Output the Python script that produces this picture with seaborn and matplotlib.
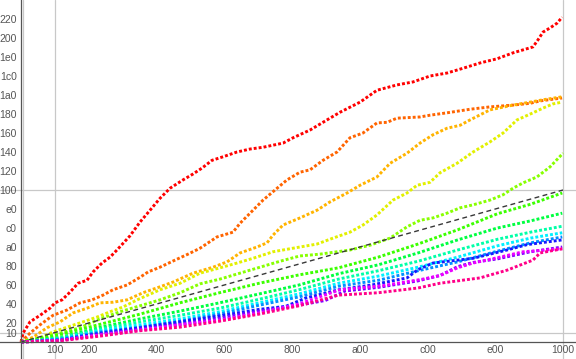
import matplotlib
matplotlib.use("Agg")
import matplotlib.pyplot as plt
import seaborn as sns

sns.set_style("white")
plt.rcParams['font.family'] = ['Liberation Sans', 'DejaVu Sans']

# values (axis ticks are hexadecimal)
red_x = [0, 15, 68, 144, 219, 257, 310, 370, 431, 499, 544, 612, 673, 725, 824, 899, 975, 1050,
         1126, 1224, 1300, 1368, 1443, 1527, 1632, 1730, 1829, 1980, 2056, 2184, 2312, 2411, 2562,
         2690, 2841, 2962, 3091, 3219, 3340, 3469, 3597, 3718, 3794, 3869, 3907, 3945, 3998, 4051, 4089]
red_y = [0, 15, 34, 45, 57, 66, 71, 84, 99, 104, 118, 133, 143, 155, 179, 202, 222, 242,
         259, 273, 283, 293, 306, 312, 320, 325, 328, 335, 344, 357, 374, 387, 404,
         424, 433, 438, 448, 453, 461, 470, 477, 487, 492, 497, 509, 522, 529, 537, 547]

orange_x = [0, 68, 144, 242, 348, 446, 537, 620, 695, 801, 899, 960, 1050, 1164, 1262, 1353, 1481,
            1602, 1655, 1731, 1829, 1935, 2010, 2108, 2184, 2282, 2388, 2486, 2584, 2690, 2766, 2841,
            3015, 3091, 3219, 3393, 3544, 3718, 3847, 3922, 4089]
orange_y = [0, 15, 29, 45, 54, 66, 71, 79, 88, 96, 109, 118, 126, 138, 148, 158, 177,
            185, 200, 217, 239, 259, 273, 286, 290, 306, 320, 344, 352, 369, 370, 377,
            379, 382, 386, 392, 396, 399, 402, 406, 411]

gold_x = [0, 91, 196, 295, 393, 499, 597, 695, 801, 922, 1050, 1149, 1300, 1451, 1557, 1655, 1783,
          1859, 1904, 1980, 2108, 2237, 2335, 2464, 2562, 2690, 2789, 2917, 3015, 3113, 3219, 3318,
          3393, 3544, 3718, 3847, 3945, 4089]
gold_y = [0, 8, 24, 34, 49, 57, 66, 67, 71, 83, 93, 101, 116, 126, 135, 150, 160,
          167, 180, 197, 209, 222, 236, 251, 264, 278, 301, 318, 335, 349, 360, 365,
          374, 391, 399, 404, 408, 413]

yellow_x = [0, 144, 242, 348, 469, 574, 673, 771, 877, 1050, 1202, 1353, 1504, 1632, 1753, 1904,
            2056, 2237, 2358, 2486, 2584, 2690, 2811, 2917, 2993, 3091, 3166, 3295, 3416, 3544,
            3643, 3748, 3869, 3945, 4020, 4089]
yellow_y = [0, 7, 17, 25, 34, 42, 51, 59, 71, 88, 99, 116, 125, 133, 141, 152,
            158, 165, 175, 185, 197, 214, 239, 251, 264, 269, 285, 301, 320, 337,
            352, 374, 386, 394, 401, 404]

lime_x = [0, 144, 295, 446, 597, 748, 899, 1050, 1202, 1353, 1504, 1655, 1806, 1957, 2108, 2260,
          2486, 2637, 2789, 2917, 3015, 3113, 3219, 3318, 3416, 3544, 3643, 3718, 3794, 3899, 3998, 4096]
lime_y = [0, 7, 15, 24, 39, 51, 61, 71, 83, 98, 106, 116, 126, 136, 145, 148,
          155, 163, 175, 194, 205, 209, 217, 226, 231, 239, 248, 259, 268, 278, 295, 318]

# the lower series (mostly sampled at the same positions)
lower_x = [0, 300, 600, 900, 1200, 1500, 1800, 2100, 2400, 2700, 3000, 3300, 3600, 3850, 4090]
greenA_y = [0, 13, 30, 47, 66, 83, 99, 113, 125, 143, 165, 189, 216, 232, 251]
greenB_y = [0, 8, 25, 39, 52, 66, 81, 96, 115, 130, 150, 172, 192, 204, 217]
aqua_y = [0, 7, 22, 34, 45, 57, 72, 88, 106, 120, 136, 155, 173, 185, 195]
cyan_y = [0, 5, 19, 29, 39, 51, 66, 81, 99, 111, 126, 143, 162, 175, 184]
azure_y = [0, 5, 17, 25, 35, 47, 62, 76, 94, 104, 120, 135, 153, 167, 177]

blue_x = [0, 300, 600, 900, 1200, 1500, 1800, 2000, 2150, 2400, 2650, 2917, 3000, 3113, 3416,
          3673, 3824, 4090]
blue_y = [0, 3, 15, 24, 34, 44, 55, 60, 74, 88, 96, 108, 122, 133, 141, 155, 164, 172]

violet_x = [0, 300, 600, 900, 1200, 1500, 1800, 2100, 2300, 2450, 2700, 3000, 3166, 3300, 3416,
            3600, 3850, 4090]
violet_y = [0, 3, 13, 22, 30, 40, 52, 62, 70, 86, 92, 103, 112, 127, 134, 140, 152, 160]

magenta_x = [0, 300, 600, 900, 1200, 1500, 1800, 2100, 2411, 2736, 3038, 3166, 3300, 3416, 3620,
             3794, 4090]
magenta_y = [0, 3, 12, 20, 29, 37, 49, 64, 88, 95, 106, 112, 125, 133, 143, 152, 157]

rose_x = [0, 300, 600, 900, 1200, 1500, 1800, 2100, 2400, 2700, 3000, 3166, 3469, 3673, 3869,
          3922, 4090]
rose_y = [0, 2, 10, 19, 25, 35, 47, 61, 79, 83, 91, 99, 108, 121, 138, 150, 157]

diag_x = [0, 4096]
diag_y = [0, 256]

xtick_vals = [256, 512, 1024, 1536, 2048, 2560, 3072, 3584, 4096]
xtick_labels = ['100', '200', '400', '600', '800', 'a00', 'c00', 'e00', '1000']
ytick_vals = [16, 32, 64, 96, 128, 160, 192, 224, 256, 288, 320, 352, 384, 416, 448, 480, 512, 544]
ytick_labels = ['10', '20', '40', '60', '80', 'a0', 'c0', 'e0', '100', '120', '140', '160',
                '180', '1a0', '1c0', '1e0', '200', '220']

series = [
    (red_x, red_y, '#ff0000'),
    (orange_x, orange_y, '#ff6400'),
    (gold_x, gold_y, '#ffb400'),
    (yellow_x, yellow_y, '#e2f000'),
    (lime_x, lime_y, '#88ff00'),
    (lower_x, greenA_y, '#3cff00'),
    (lower_x, greenB_y, '#00ff40'),
    (lower_x, aqua_y, '#00ffa8'),
    (lower_x, cyan_y, '#00f0ff'),
    (lower_x, azure_y, '#0090ff'),
    (blue_x, blue_y, '#1818ff'),
    (violet_x, violet_y, '#8000ff'),
    (magenta_x, magenta_y, '#f000ff'),
    (rose_x, rose_y, '#ff0088'),
]

fig = plt.figure(figsize=(5.76, 3.59), dpi=100)
ax = fig.add_axes([0, 0, 1, 1])

for gx in [16, 256, 4096]:
    ax.axvline(gx, color='#c8c8c8', lw=0.9, zorder=0)
for gy in [16, 256]:
    ax.axhline(gy, color='#c8c8c8', lw=0.9, zorder=0)

for xs, ys, c in series:
    sns.lineplot(x=xs, y=ys, color=c, ax=ax, linewidth=2.1, linestyle=(0, (1, 0.7)),
                 estimator=None, sort=False)

sns.lineplot(x=diag_x, y=diag_y, color='#383838', ax=ax, linewidth=1.0,
             linestyle=(0, (3.5, 2.5)), estimator=None)

ax.set_xlim(-159, 4194)
ax.set_ylim(-28.6, 576)

for side in ['top', 'right']:
    ax.spines[side].set_visible(False)
for side in ['left', 'bottom']:
    ax.spines[side].set_position(('data', 0))
    ax.spines[side].set_color('#555555')
    ax.spines[side].set_linewidth(0.9)

ax.set_xticks(xtick_vals)
ax.set_xticklabels(xtick_labels)
ax.set_yticks(ytick_vals)
ax.set_yticklabels(ytick_labels)
ax.tick_params(direction='in', length=4, width=0.8, color='#555555',
               labelcolor='#555555', labelsize=7.5)
ax.tick_params(axis='y', pad=3)
ax.tick_params(axis='x', pad=2)
ax.set_xlabel('')
ax.set_ylabel('')

fig.savefig('out.png', dpi=100)
